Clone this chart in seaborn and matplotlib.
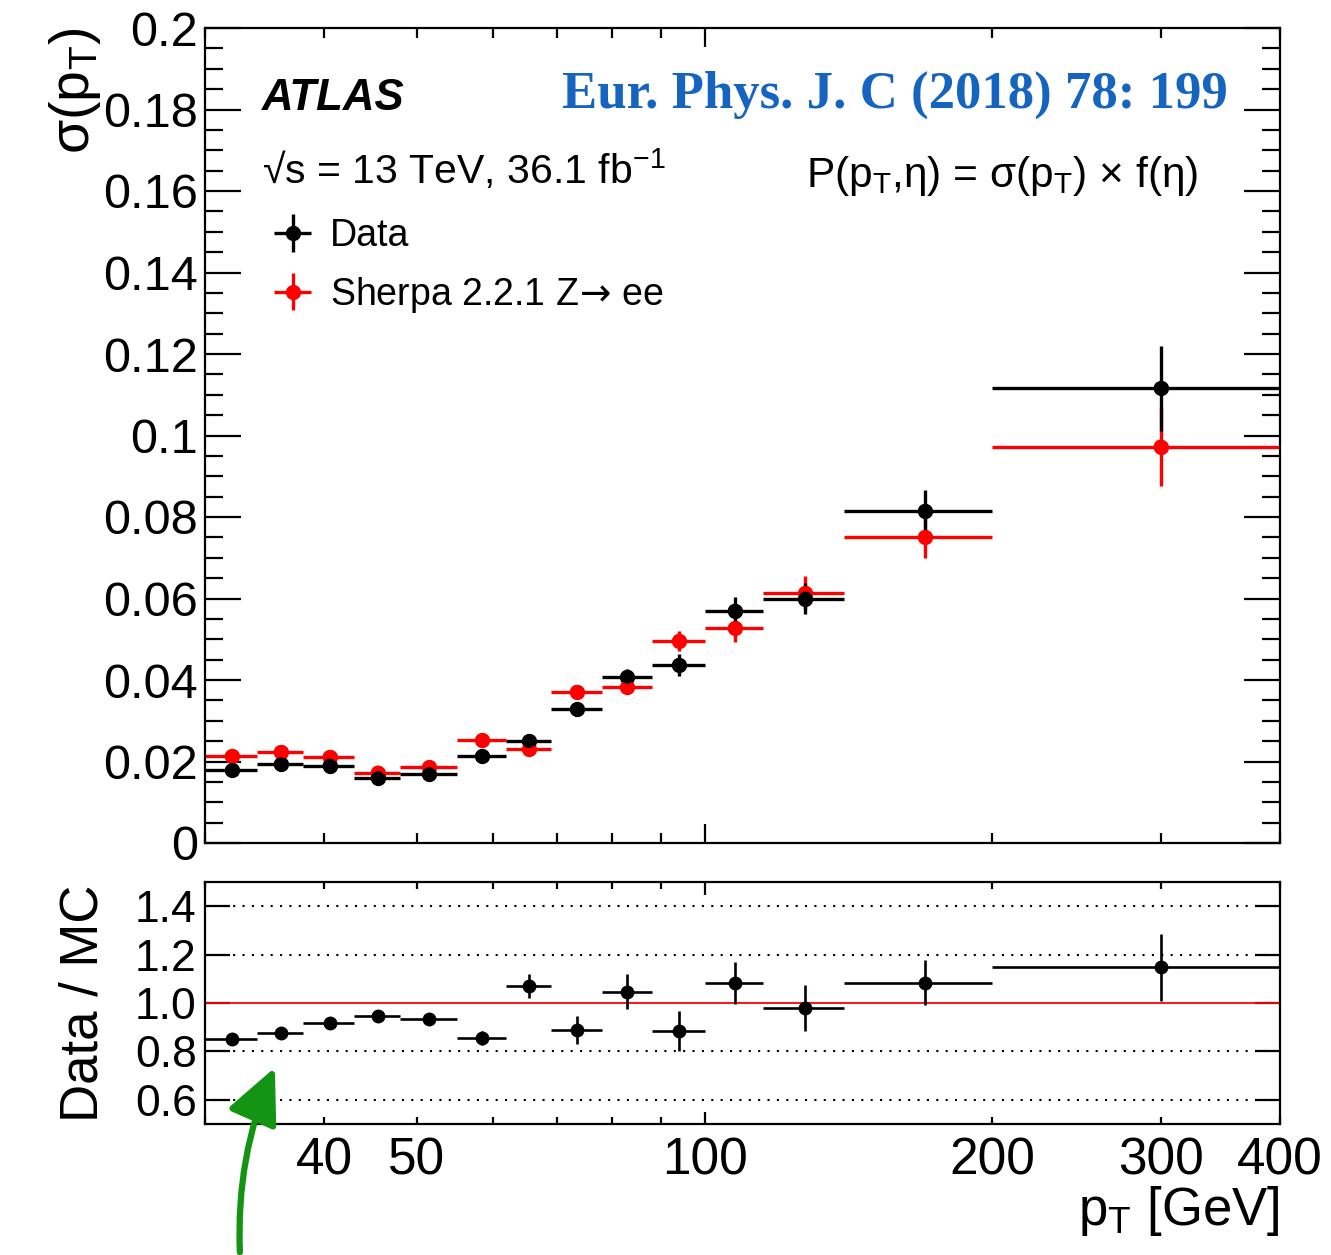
import numpy as np
import pandas as pd
import matplotlib
matplotlib.use("Agg")
import matplotlib.pyplot as plt
import matplotlib.ticker as mticker
from matplotlib.patches import FancyArrowPatch
import seaborn as sns

# ---------------- data ----------------
bin_edges = [30, 34, 38, 43, 48, 55, 62, 69, 78, 88, 100, 115, 140, 200, 400]
data_vals = [0.0178, 0.0193, 0.0190, 0.0159, 0.0169, 0.0213, 0.0250, 0.0328,
             0.0408, 0.0437, 0.0570, 0.0600, 0.0815, 0.1116]
data_errs = [0.0010, 0.0010, 0.0010, 0.0009, 0.0010, 0.0012, 0.0014, 0.0016,
             0.0020, 0.0026, 0.0034, 0.0038, 0.0052, 0.0104]
mc_vals = [0.0213, 0.0223, 0.0211, 0.0173, 0.0186, 0.0252, 0.0231, 0.0371,
           0.0383, 0.0496, 0.0527, 0.0614, 0.0751, 0.0973]
mc_errs = [0.0008, 0.0008, 0.0008, 0.0007, 0.0008, 0.0010, 0.0010, 0.0014,
           0.0016, 0.0025, 0.0033, 0.0040, 0.0052, 0.0097]
ratio_vals = [0.850, 0.878, 0.918, 0.948, 0.932, 0.856, 1.071, 0.888,
              1.047, 0.884, 1.082, 0.980, 1.084, 1.147]
ratio_errs = [0.015, 0.015, 0.015, 0.018, 0.018, 0.028, 0.050, 0.058,
              0.071, 0.084, 0.088, 0.095, 0.094, 0.137]
upper_yticks = [0, 0.02, 0.04, 0.06, 0.08, 0.1, 0.12, 0.14, 0.16, 0.18, 0.2]
ratio_yticks = [0.6, 0.8, 1.0, 1.2, 1.4]
x_labelled = [40, 50, 100, 200, 300, 400]

label_data = "Data"
label_mc = r"Sherpa 2.2.1 Z$\!\mathsf{\rightarrow}\!$ ee"

edges = np.array(bin_edges, dtype=float)
centers = 0.5 * (edges[1:] + edges[:-1])
halfw = 0.5 * (edges[1:] - edges[:-1])

df = pd.DataFrame({
    "pt": np.concatenate([centers, centers]),
    "val": np.concatenate([mc_vals, data_vals]),
    "sample": ["mc"] * len(centers) + ["data"] * len(centers),
})
df_ratio = pd.DataFrame({"pt": centers, "ratio": ratio_vals})

# ---------------- style ----------------
sns.set_theme(style="ticks")
plt.rcParams["font.family"] = ["Liberation Sans", "DejaVu Sans"]
plt.rcParams["mathtext.fontset"] = "custom"
plt.rcParams["mathtext.rm"] = "Liberation Sans"
plt.rcParams["mathtext.it"] = "Liberation Sans:italic"
plt.rcParams["mathtext.bf"] = "Liberation Sans:bold"
plt.rcParams["mathtext.sf"] = "DejaVu Sans"
plt.rcParams["mathtext.default"] = "rm"
plt.rcParams["axes.linewidth"] = 1.6
for key in ["text.color", "axes.labelcolor", "xtick.color", "ytick.color",
            "axes.edgecolor"]:
    plt.rcParams[key] = "black"

W, H = 1331, 1255
fig = plt.figure(figsize=(W / 100, H / 100), dpi=100)
ax1 = fig.add_axes([205 / W, (H - 843) / H, 1075 / W, 815 / H])
ax2 = fig.add_axes([205 / W, (H - 1124) / H, 1075 / W, 242 / H])

# ---------------- upper panel ----------------
eb_mc = ax1.errorbar(centers, mc_vals, xerr=halfw, yerr=mc_errs, fmt="o",
                     color="red", ms=10, elinewidth=2.4, capsize=0, zorder=2,
                     label=label_mc)
eb_data = ax1.errorbar(centers, data_vals, xerr=halfw, yerr=data_errs, fmt="o",
                       color="black", ms=10, elinewidth=2.4, capsize=0, zorder=4,
                       label=label_data)
sns.scatterplot(data=df, x="pt", y="val", hue="sample",
                palette={"mc": "red", "data": "black"},
                s=100, linewidth=0, legend=False, ax=ax1, zorder=5)

ax1.set_xscale("log")
ax1.set_xlim(30, 400)
ax1.set_ylim(0, 0.2)
ax1.set_yticks(upper_yticks)
ax1.yaxis.set_major_formatter(mticker.FuncFormatter(lambda v, p: f"{v:g}"))
ax1.yaxis.set_minor_locator(mticker.MultipleLocator(0.005))
ax1.xaxis.set_major_locator(mticker.FixedLocator([100]))
ax1.xaxis.set_minor_locator(mticker.FixedLocator(
    [30, 40, 50, 60, 70, 80, 90, 200, 300, 400]))
ax1.xaxis.set_major_formatter(mticker.NullFormatter())
ax1.xaxis.set_minor_formatter(mticker.NullFormatter())
ax1.set_xlabel("")
ax1.tick_params(axis="both", which="both", direction="in", top=True,
                right=True, width=1.6, colors="black")
ax1.tick_params(axis="y", which="major", length=26, labelsize=35, pad=5)
ax1.tick_params(axis="y", which="minor", length=13)
ax1.tick_params(axis="x", which="major", length=14)
ax1.tick_params(axis="x", which="minor", length=7)
ax1.set_ylabel(r"$\sigma(p_{T})$", fontsize=40, loc="top")
ax1.yaxis.set_label_coords(-0.095, 1.0)

ax1.text((262 - 205) / 1075, (843 - 110) / 815, "ATLAS", transform=ax1.transAxes,
         fontsize=31.5, fontweight="bold", fontstyle="italic", va="baseline")
ax1.text((262 - 205) / 1075, (843 - 184) / 815,
         "\u221as = 13 TeV, 36.1 fb$^{-1}$", transform=ax1.transAxes,
         fontsize=29.5, va="baseline")
ax1.text((1198 - 205) / 1075, (843 - 187) / 815,
         r"P(p$_{T}$,$\eta$) = $\sigma$(p$_{T}$) $\times$ f($\eta$)",
         transform=ax1.transAxes, fontsize=30.5, va="baseline", ha="right")
ax1.text((1228 - 205) / 1075, (843 - 108) / 815,
         "Eur. Phys. J. C (2018) 78: 199", transform=ax1.transAxes,
         fontsize=38, fontweight="bold", color="#1565C0",
         family=["Liberation Serif", "DejaVu Serif"], va="baseline", ha="right")

ax1.legend(handles=[eb_data, eb_mc], loc="upper left",
           bbox_to_anchor=((270 - 205) / 1075, (843 - 218) / 815),
           frameon=False, fontsize=27, borderaxespad=0, borderpad=0,
           handlelength=1.2, handletextpad=0.4, labelspacing=0.55)

# ---------------- ratio panel ----------------
for yv in ratio_yticks:
    if yv != 1.0:
        ax2.axhline(yv, color="black", lw=1.5, ls=(0, (1, 3.5)), zorder=1)
ax2.axhline(1.0, color="red", lw=1.3, zorder=2)
ax2.errorbar(centers, ratio_vals, xerr=halfw, yerr=ratio_errs, fmt="none",
             ecolor="black", elinewidth=1.9, capsize=0, zorder=3)
sns.scatterplot(data=df_ratio, x="pt", y="ratio", color="black", s=100,
                linewidth=0, ax=ax2, zorder=4)

ax2.set_xscale("log")
ax2.set_xlim(30, 400)
ax2.set_ylim(0.5, 1.5)
ax2.set_yticks(ratio_yticks)
ax2.yaxis.set_major_formatter(mticker.FuncFormatter(lambda v, p: f"{v:.1f}"))
ax2.yaxis.set_minor_locator(mticker.NullLocator())
ax2.xaxis.set_major_locator(mticker.FixedLocator([100]))
ax2.xaxis.set_minor_locator(mticker.FixedLocator(
    [30, 40, 50, 60, 70, 80, 90, 200, 300, 400]))
fmt_x = mticker.FuncFormatter(
    lambda v, p: f"{v:g}" if any(abs(v - t) < 1e-6 for t in x_labelled) else "")
ax2.xaxis.set_major_formatter(fmt_x)
ax2.xaxis.set_minor_formatter(fmt_x)
ax2.tick_params(axis="both", which="both", direction="in", top=True,
                right=True, width=1.6, colors="black")
ax2.tick_params(axis="y", which="major", length=18, labelsize=32, pad=6)
ax2.tick_params(axis="x", which="major", length=9, labelsize=37, pad=9)
ax2.tick_params(axis="x", which="minor", length=5, labelsize=37, pad=9)
ax2.set_ylabel("Data / MC", fontsize=38)
ax2.yaxis.set_label_coords(-0.09, 0.5)
ax2.set_xlabel(r"p$_{T}$ [GeV]", fontsize=38, loc="right")
ax2.xaxis.set_label_coords(1.0, -0.25)

# ---------------- green hand-drawn arrow ----------------
arrow = FancyArrowPatch((240, 0), (276, H - 1065), transform=None,
                        arrowstyle="-|>,head_length=0.85,head_width=0.4",
                        connectionstyle="arc3,rad=-0.12", mutation_scale=40,
                        color="#139513", lw=4.5, zorder=10, clip_on=False)
fig.add_artist(arrow)

fig.savefig("out.png", dpi=100)
